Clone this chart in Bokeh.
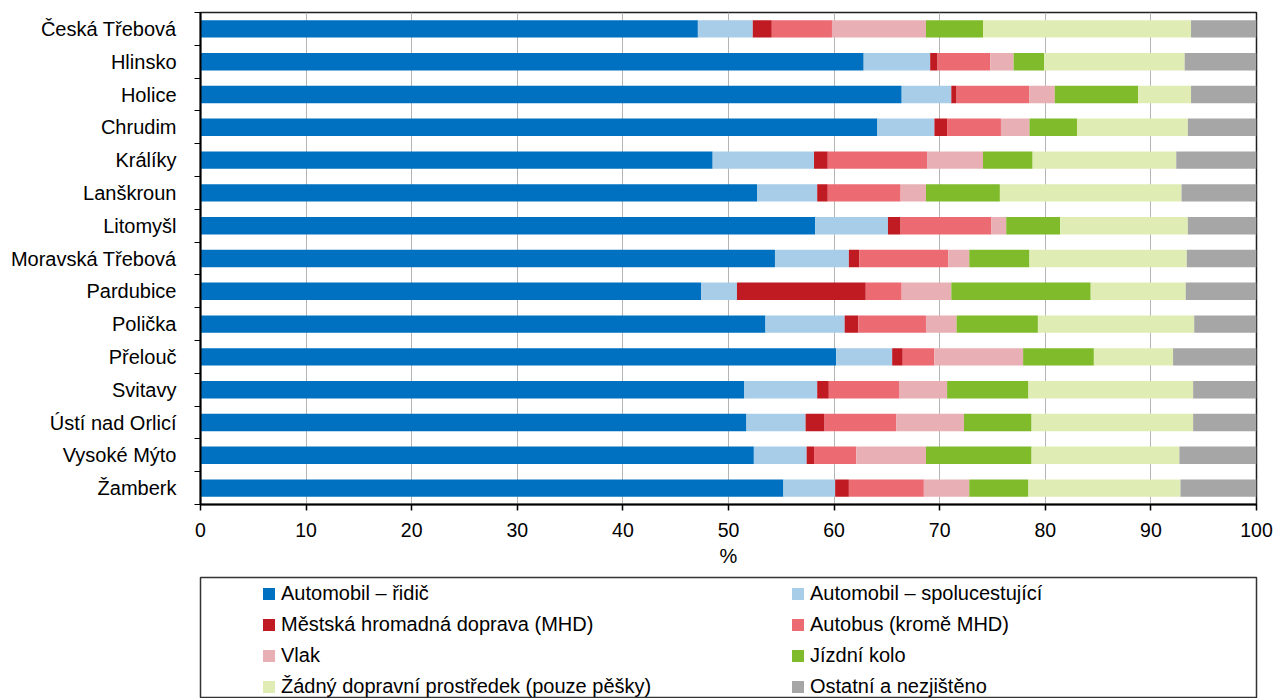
from bokeh.plotting import figure
from bokeh.models import Range1d, FixedTicker, Legend, LegendItem, ColumnDataSource
from bokeh.layouts import column
from bokeh.embed import file_html
from bokeh.resources import INLINE

FONT = "Liberation Sans"

cities = ["Česká Třebová", "Hlinsko", "Holice", "Chrudim", "Králíky", "Lanškroun",
          "Litomyšl", "Moravská Třebová", "Pardubice", "Polička", "Přelouč",
          "Svitavy", "Ústí nad Orlicí", "Vysoké Mýto", "Žamberk"]

modes = ["Automobil – řidič", "Automobil – spolucestující",
         "Městská hromadná doprava (MHD)", "Autobus (kromě MHD)",
         "Vlak", "Jízdní kolo",
         "Žádný dopravní prostředek (pouze pěšky)", "Ostatní a nezjištěno"]

colors = ["#0070c0", "#a8cde8", "#c01a22", "#ec6b73",
          "#e8b0b4", "#7fbb2b", "#dfedb4", "#a6a6a6"]

auto_ridic =      [47.1, 62.8, 66.4, 64.1, 48.5, 52.7, 58.2, 54.4, 47.4, 53.5, 60.2, 51.5, 51.7, 52.4, 55.2]
auto_spolu =      [5.2, 6.3, 4.7, 5.4, 9.6, 5.7, 6.9, 7.0, 3.4, 7.5, 5.3, 6.9, 5.6, 5.0, 4.9]
mhd =             [1.8, 0.7, 0.5, 1.2, 1.3, 1.0, 1.2, 1.0, 12.2, 1.3, 1.0, 1.1, 1.8, 0.7, 1.3]
autobus =         [5.7, 5.0, 6.9, 5.1, 9.4, 6.9, 8.6, 8.4, 3.4, 6.4, 3.0, 6.7, 6.8, 4.0, 7.1]
vlak =            [8.9, 2.2, 2.4, 2.7, 5.3, 2.4, 1.4, 2.0, 4.7, 2.9, 8.4, 4.5, 6.4, 6.6, 4.3]
kolo =            [5.4, 2.9, 7.9, 4.5, 4.7, 7.0, 5.1, 5.7, 13.2, 7.7, 6.7, 7.7, 6.4, 10.0, 5.6]
pesky =           [19.7, 13.3, 5.0, 10.5, 13.6, 17.2, 12.1, 14.9, 9.0, 14.8, 7.5, 15.6, 15.3, 14.0, 14.4]
ostatni =         [6.2, 6.8, 6.2, 6.5, 7.6, 7.1, 6.5, 6.6, 6.7, 5.9, 7.9, 6.0, 6.0, 7.3, 7.2]

x_ticks = [0, 10, 20, 30, 40, 50, 60, 70, 80, 90, 100]

series = [auto_ridic, auto_spolu, mhd, autobus, vlak, kolo, pesky, ostatni]
keys = ["s%d" % i for i in range(len(series))]
n = len(cities)
ypos = [n - 0.5 - i for i in range(n)]

data = {"y": ypos, "city": cities}
for k, s in zip(keys, series):
    data[k] = s
source = ColumnDataSource(data)

W = 1275

p = figure(width=W, height=574, x_range=Range1d(0, 100), y_range=Range1d(0, n),
           output_backend="svg", toolbar_location=None,
           min_border_left=200, min_border_right=19, min_border_top=12, min_border_bottom=70)
p.background_fill_color = "white"
p.border_fill_color = "white"

p.hbar_stack(keys, y="y", height=0.53, fill_color=colors, line_color=None, source=source)

# x axis
p.xaxis.ticker = FixedTicker(ticks=x_ticks)
p.xaxis.axis_label = "%"
p.xaxis.axis_label_text_font = FONT
p.xaxis.axis_label_text_font_size = "20px"
p.xaxis.axis_label_text_font_style = "normal"
p.xaxis.axis_label_text_color = "black"
p.xaxis.axis_label_standoff = 5
p.xaxis.major_label_text_font = FONT
p.xaxis.major_label_text_font_size = "19.5px"
p.xaxis.major_label_text_color = "black"
p.xaxis.major_label_standoff = 12
p.xaxis.major_tick_out = 6
p.xaxis.major_tick_in = 0
p.xaxis.minor_tick_out = 0
p.xaxis.minor_tick_in = 0
p.xaxis.axis_line_width = 2
p.xaxis.axis_line_color = "black"
p.xaxis.major_tick_line_color = "black"
p.xaxis.major_tick_line_width = 1.5

# y axis
p.yaxis.ticker = FixedTicker(ticks=ypos, minor_ticks=list(range(n + 1)))
p.yaxis.major_label_overrides = {y: c for y, c in zip(ypos, cities)}
p.yaxis.major_label_text_font = FONT
p.yaxis.major_label_text_font_size = "20px"
p.yaxis.major_label_text_color = "black"
p.yaxis.major_label_standoff = 18
p.yaxis.major_tick_out = 0
p.yaxis.major_tick_in = 0
p.yaxis.minor_tick_out = 6
p.yaxis.minor_tick_in = 0
p.yaxis.minor_tick_line_color = "black"
p.yaxis.minor_tick_line_width = 1
p.yaxis.axis_line_width = 2
p.yaxis.axis_line_color = "black"

p.ygrid.visible = False
p.xgrid.ticker = FixedTicker(ticks=x_ticks)
p.xgrid.grid_line_color = "#b4b4b4"
p.xgrid.grid_line_width = 1

p.outline_line_color = "#1f1f1f"
p.outline_line_width = 1.5
p.outline_line_alpha = 1

# legend panel: same data, drawn outside its visible range so only legend shows
q = figure(width=W, height=124, x_range=Range1d(0, 1), y_range=Range1d(1000, 1001),
           output_backend="svg", toolbar_location=None,
           x_axis_location=None, y_axis_location=None,
           min_border_left=197, min_border_right=18, min_border_top=3, min_border_bottom=0)
q.grid.visible = False
q.outline_line_color = "#333333"
q.outline_line_width = 1.5
q.background_fill_color = "white"
q.border_fill_color = "white"

rends = q.hbar_stack(keys, y="y", height=0.53, fill_color=colors, line_color=None, source=source)

def make_legend(idx, loc):
    return Legend(items=[LegendItem(label=modes[i], renderers=[rends[i]]) for i in idx],
                  location=loc, orientation="vertical",
                  glyph_width=15, glyph_height=15, label_standoff=5,
                  label_text_font=FONT, label_text_font_size="20px", label_text_color="black",
                  label_height=22, spacing=8, padding=0, margin=0,
                  border_line_color=None, background_fill_alpha=0)

q.add_layout(make_legend([0, 2, 4, 6], (61, 0)))
q.add_layout(make_legend([1, 3, 5, 7], (590, 0)))

layout = column(p, q, spacing=0)
open("out.html", "w").write(file_html(layout, INLINE))
